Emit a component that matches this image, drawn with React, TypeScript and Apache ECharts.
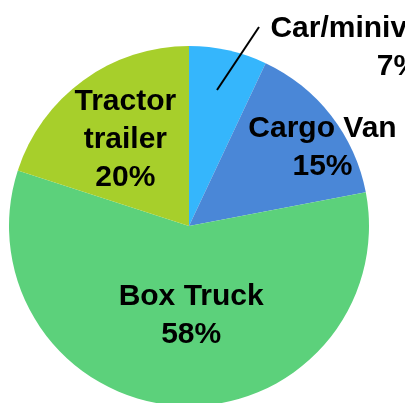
import React, { useEffect, useRef } from "react";
import * as echarts from "echarts";

const categories = ["Car/minivan", "Cargo Van", "Box Truck", "Tractor trailer"];
const displayNames = ["Car/minivan", "Cargo Van", "Box Truck", "Tractor\ntrailer"];
const shares = [7, 15, 58, 20];
const colors = ["#35b6fc", "#4a87d7", "#5cd17b", "#a7cf2b"];
const labelOffsets: [number, number][] = [[147, -90], [60, -23], [8, -5], [-9, -13]];
const carLeader = { x1: 217, y1: 90, x2: 259, y2: 27 };

export default function App() {
  const ref = useRef<HTMLDivElement>(null);
  useEffect(() => {
    if (!ref.current) return;
    const chart = echarts.init(ref.current, null, { renderer: "svg" });
    const font = {
      fontFamily: "Liberation Sans, Arial, Helvetica, sans-serif",
      fontWeight: "bold" as const,
      fontSize: 30,
      color: "#000",
      lineHeight: 38,
    };
    chart.setOption({
      animation: false,
      graphic: [
        {
          type: "line",
          shape: carLeader,
          style: { stroke: "#000", lineWidth: 2 },
          z: 100,
        },
      ],
      series: [
        {
          type: "pie",
          radius: 180,
          center: [189, 226],
          startAngle: 90,
          clockwise: true,
          avoidLabelOverlap: false,
          itemStyle: { borderWidth: 0 },
          labelLine: { show: false },
          data: categories.map((c, i) => {
            if (i === 0) {
              return {
                name: c,
                value: shares[i],
                itemStyle: { color: colors[i] },
                label: {
                  show: true,
                  position: "inside",
                  offset: labelOffsets[i],
                  formatter: `{a|${displayNames[i]}}\n{b|${shares[i]}%}`,
                  align: "center",
                  rich: {
                    a: { ...font },
                    b: { ...font, align: "right", padding: [0, 22, 0, 0] },
                  },
                },
              };
            }
            return {
              name: c,
              value: shares[i],
              itemStyle: { color: colors[i] },
              label: {
                show: true,
                position: "inside",
                formatter: `${displayNames[i]}\n${shares[i]}%`,
                offset: labelOffsets[i],
                align: "center",
                ...font,
              },
            };
          }),
        },
      ],
    });
    return () => chart.dispose();
  }, []);
  return (
    <div
      ref={ref}
      style={{ position: "fixed", left: 0, top: 0, width: 405, height: 403 }}
    />
  );
}
